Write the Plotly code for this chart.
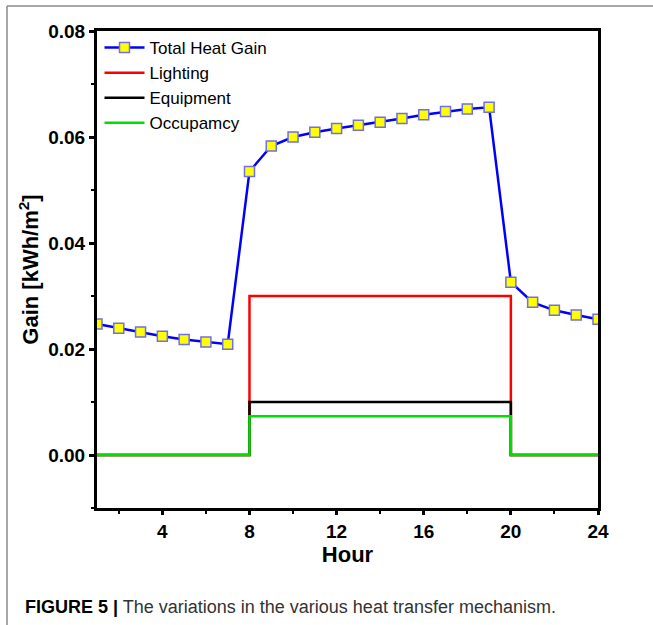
import plotly.graph_objects as go

hours = list(range(1, 25))
total_heat_gain = [0.0247, 0.0239, 0.0232, 0.0224, 0.0218, 0.0213, 0.0209,
                   0.0535, 0.0583, 0.0600, 0.0609, 0.0616, 0.0622, 0.0628,
                   0.0635, 0.0642, 0.0648, 0.0653, 0.0656,
                   0.0326, 0.0288, 0.0273, 0.0264, 0.0256]
lighting = [0]*7 + [0.03]*12 + [0]*5
equipment = [0]*7 + [0.01]*12 + [0]*5
occupancy = [0]*7 + [0.0073]*12 + [0]*5

x_ticks = [4, 8, 12, 16, 20, 24]
x_minor = [2, 6, 10, 14, 18, 22]
y_ticks = [0.00, 0.02, 0.04, 0.06, 0.08]
y_minor = [-0.01, 0.01, 0.03, 0.05, 0.07]

fig = go.Figure()
fig.add_trace(go.Scatter(x=hours, y=lighting, mode="lines", name="Lighting", legendrank=2,
                         line=dict(color="#ff0000", width=2.5, shape="hv")))
fig.add_trace(go.Scatter(x=hours, y=equipment, mode="lines", name="Equipment", legendrank=3,
                         line=dict(color="#000000", width=2.5, shape="hv")))
fig.add_trace(go.Scatter(x=hours, y=occupancy, mode="lines", name="Occupamcy", legendrank=4,
                         line=dict(color="#00e000", width=2.5, shape="hv")))
fig.add_trace(go.Scatter(x=hours, y=total_heat_gain, mode="lines+markers",
                         name="Total Heat Gain", legendrank=1,
                         line=dict(color="#0000ff", width=2.5),
                         marker=dict(symbol="square", size=10, color="#ffff00",
                                     line=dict(color="#6f6fe8", width=1.5))))

L, R, T, B = 97, 598, 31, 508
W, H = 653, 625
pw, ph = R - L, B - T

def px(x):
    return (x - L) / pw

def py(y):
    return (B - y) / ph

font_family = "Liberation Sans, Arial, sans-serif"

fig.update_layout(
    width=W, height=H,
    margin=dict(l=L, r=W - R, t=T, b=H - B),
    paper_bgcolor="white", plot_bgcolor="white",
    font=dict(family=font_family, color="black"),
    legend=dict(x=0.005, y=py(30), xanchor="left", yanchor="top",
                font=dict(size=17, family=font_family),
                bgcolor="rgba(0,0,0,0)",
                itemwidth=40, tracegroupgap=0),
    showlegend=True,
    xaxis=dict(range=[1, 24], tickvals=x_ticks, ticks="outside", ticklen=4,
               tickwidth=2.5, tickcolor="black", showline=True, linewidth=3,
               linecolor="black", mirror=True, showgrid=False, zeroline=False,
               tickfont=dict(size=19, weight="bold", family=font_family),
               title=dict(text="Hour", font=dict(size=22, weight="bold", family=font_family), standoff=0),
               minor=dict(tickvals=x_minor, ticks="outside", ticklen=3,
                          tickwidth=2, tickcolor="black")),
    yaxis=dict(range=[-0.01, 0.08], tickvals=y_ticks, tickformat=".2f",
               ticks="outside", ticklen=5, tickwidth=2.5, tickcolor="black",
               showline=True, linewidth=3, linecolor="black", mirror=True,
               showgrid=False, zeroline=False,
               tickfont=dict(size=19, weight="bold", family=font_family),
               title=dict(text="Gain [kWh/m<sup>2</sup>]",
                          font=dict(size=22, weight="bold", family=font_family), standoff=4),
               minor=dict(tickvals=y_minor, ticks="outside", ticklen=3,
                          tickwidth=2, tickcolor="black")),
)

# frame lines (left and top) of the figure panel
fig.add_shape(type="line", xref="paper", yref="paper",
              x0=px(7), x1=px(7), y0=py(6), y1=py(625),
              line=dict(color="#8a8a8a", width=1.5))
fig.add_shape(type="line", xref="paper", yref="paper",
              x0=px(7), x1=px(653), y0=py(6), y1=py(6),
              line=dict(color="#8a8a8a", width=1.5))

fig.add_annotation(xref="paper", yref="paper", x=px(23), y=py(607),
                   xanchor="left", yanchor="middle", showarrow=False,
                   text="<b>FIGURE 5 |</b><span style='color:#333333'> The variations in the various heat transfer mechanism.</span>",
                   font=dict(size=18, family=font_family, color="black"))

fig.write_html("out.html")
